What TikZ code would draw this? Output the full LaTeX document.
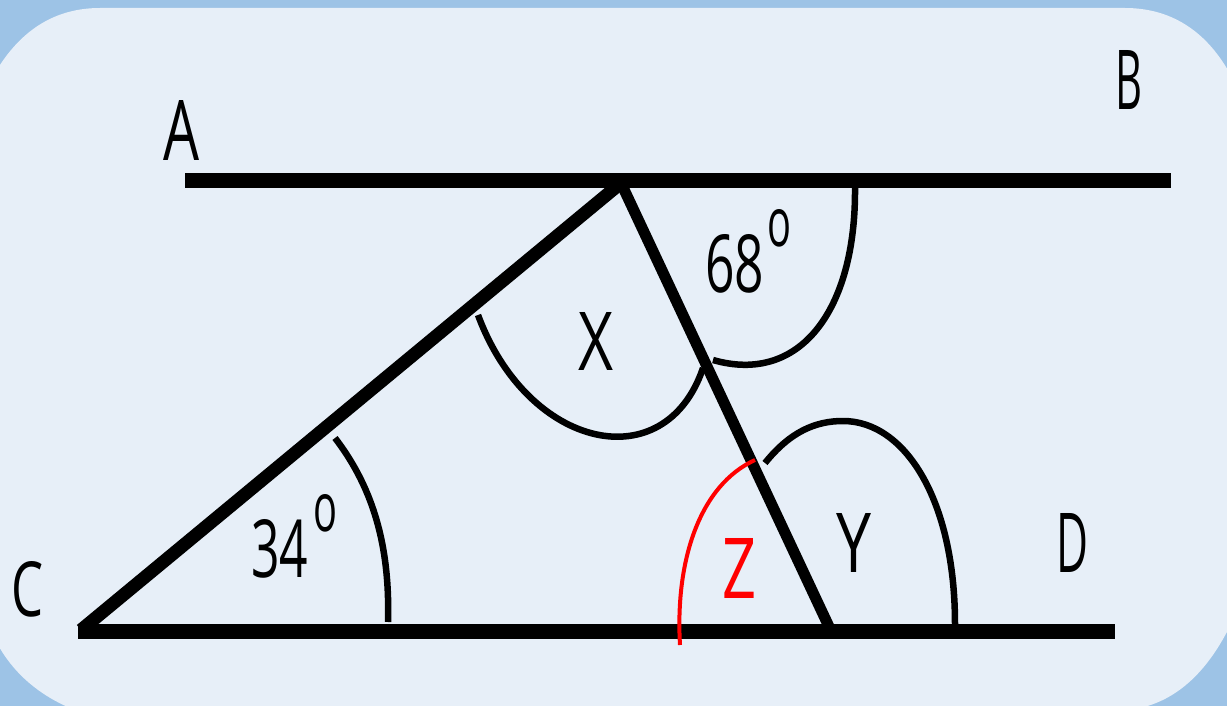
\documentclass[tikz,border=0pt]{standalone}
\usepackage{fontspec}
\setmainfont{Open Sans}
\usepackage{graphicx}
\definecolor{outerbg}{HTML}{9DC3E6}
\definecolor{innerbg}{HTML}{E7EFF8}
\definecolor{zred}{HTML}{FF0000}
\newcommand{\fitlbl}[3]{\resizebox{#1pt}{#2pt}{#3}}
\begin{document}
\begin{tikzpicture}[x=1pt,y=-1pt,
  parline/.style={line width=15pt,line cap=butt},
  sideline/.style={line width=13pt,line cap=butt},
  transline/.style={line width=11pt,line cap=butt},
  anglearc/.style={line width=6.5pt,line cap=butt},
  redarc/.style={line width=4pt,draw=zred},
  lbl/.style={inner sep=0pt,outer sep=0pt}]
\useasboundingbox (0,0) rectangle (1227,706);
\clip (0,0) rectangle (1227,706);
\fill[outerbg] (0,0) rectangle (1227,706);
\fill[innerbg] (-2,68) .. controls (22,30) and (55,8) .. (100,8) -- (1125,8)
  .. controls (1170,8) and (1205,30) .. (1229,72) -- (1229,628)
  .. controls (1205,675) and (1175,700) .. (1140,708) -- (70,708)
  .. controls (40,695) and (15,675) .. (-2,645) -- cycle;
% coordinates
\coordinate (Aend) at (185,181);
\coordinate (Bend) at (1171,181);
\coordinate (Cend) at (78,631);
\coordinate (Dend) at (1115,631);
\coordinate (C) at (81,630);
\coordinate (P) at (621,183);
\coordinate (Q) at (831,631);
% lines
\draw[parline] (Aend) -- (Bend);
\draw[parline] (Cend) -- (Dend);
\draw[sideline] (P) -- (C);
\draw[transline] (P) -- (Q);
% arcs
\draw[anglearc] (335,438) .. controls (375,490) and (390,550) .. (388,622);
\draw[anglearc] (478,315) .. controls (528,450) and (665,480) .. (703,368);
\draw[anglearc] (855,188) .. controls (856,310) and (800,385) .. (713,360);
\draw[anglearc] (765,463) .. controls (790,432) and (815,421) .. (843,421)
  .. controls (905,421) and (955,500) .. (955,624);
\draw[redarc] (755,460) .. controls (700,485) and (675,560) .. (680,645);
% labels
\node[lbl] (lA) at (181.5,130.5) {\fitlbl{36}{60}{A}};
\node[lbl] (lB) at (1128.5,79.5) {\fitlbl{27}{59}{B}};
\node[lbl] (lC) at (27.5,589.5) {\fitlbl{32}{55}{C}};
\node[lbl] (lD) at (1072.5,542.5) {\fitlbl{32}{59}{D}};
\node[lbl] (lX) at (596,341) {\fitlbl{35}{58}{X}};
\node[lbl] (lY) at (854,542.5) {\fitlbl{35}{59}{Y}};
\node[lbl,text=zred] (lZ) at (739,568) {\fitlbl{34}{60}{Z}};
\node[lbl,anchor=south west] (l68) at (705,293) {\fitlbl{59}{58}{68}\hspace{3pt}\raisebox{46pt}{\fitlbl{24}{37}{o}}};
\node[lbl,anchor=south west] (l34) at (251,578) {\fitlbl{57}{58}{34}\hspace{5pt}\raisebox{46pt}{\fitlbl{24}{37}{o}}};
\end{tikzpicture}
\end{document}
